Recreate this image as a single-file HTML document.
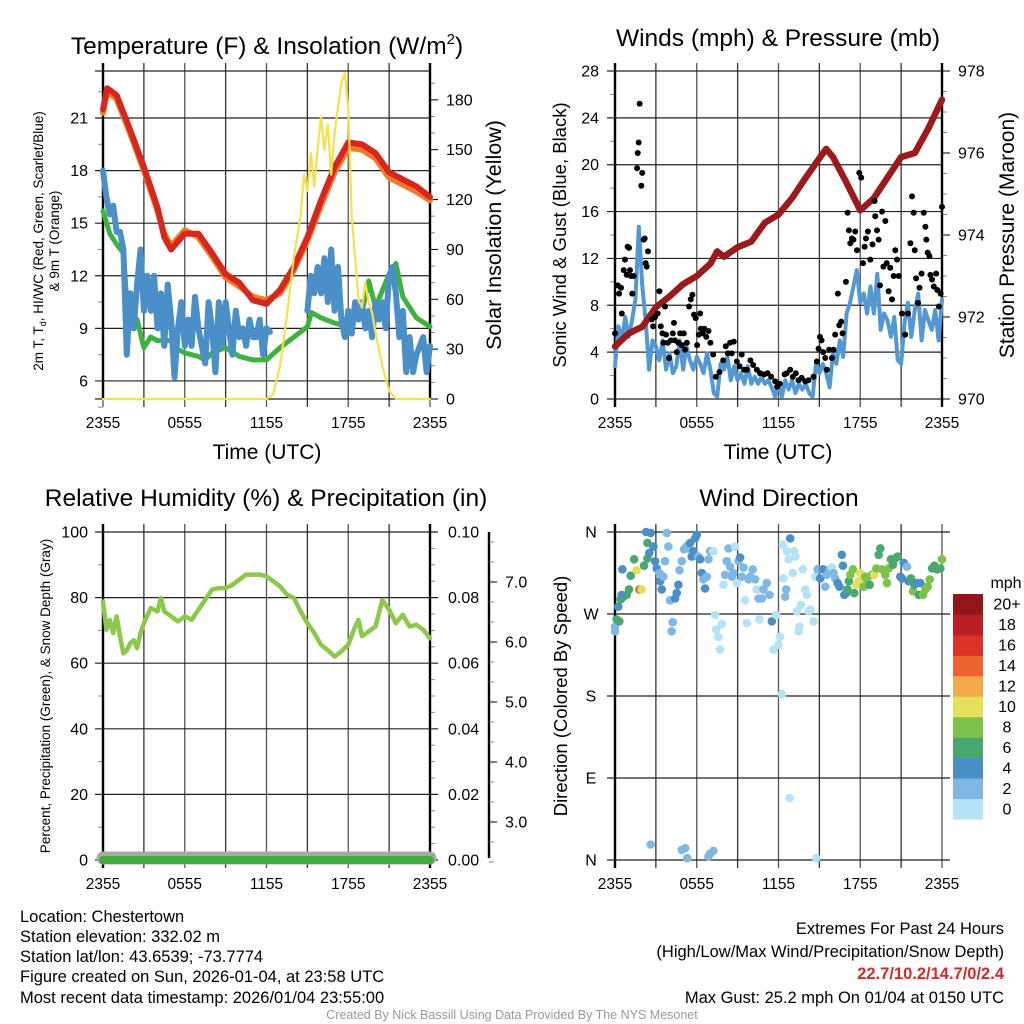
<!DOCTYPE html>
<html><head><meta charset="utf-8"><title>Chestertown Meteogram</title>
<style>
html,body{margin:0;padding:0;background:#fff;}
svg{display:block;font-family:"Liberation Sans",Arial,sans-serif;}
</style></head>
<body>
<svg id="chart" xmlns="http://www.w3.org/2000/svg" width="1024" height="1024" viewBox="0 0 1024 1024">
<rect x="0" y="0" width="1024" height="1024" fill="#fff"/>
<g id="layer"></g>
<!-- titles -->
<text x="267" y="54" font-size="24.5" text-anchor="middle">Temperature (F) &amp; Insolation (W/m<tspan font-size="15" dy="-10">2</tspan><tspan dy="10">)</tspan></text>
<text x="778" y="46" font-size="24.5" text-anchor="middle">Winds (mph) &amp; Pressure (mb)</text>
<text x="266" y="506" font-size="24.5" text-anchor="middle">Relative Humidity (%) &amp; Precipitation (in)</text>
<text x="779" y="506" font-size="24.5" text-anchor="middle">Wind Direction</text>
<!-- axis titles -->
<text x="267" y="459" font-size="21" text-anchor="middle">Time (UTC)</text>
<text x="778" y="459" font-size="21" text-anchor="middle">Time (UTC)</text>
<text transform="translate(43,241) rotate(-90)" font-size="13.5" text-anchor="middle">2m T, T<tspan font-size="9" dy="3">d</tspan><tspan dy="-3">, HI/WC (Red, Green, Scarlet/Blue)</tspan></text>
<text transform="translate(59,241) rotate(-90)" font-size="13.5" text-anchor="middle">&amp; 9m T (Orange)</text>
<text transform="translate(501,235) rotate(-90)" font-size="21.5" text-anchor="middle">Solar Insolation (Yellow)</text>
<text transform="translate(566,235) rotate(-90)" font-size="18.5" text-anchor="middle">Sonic Wind &amp; Gust (Blue, Black)</text>
<text transform="translate(1014,235) rotate(-90)" font-size="21" text-anchor="middle">Station Pressure (Maroon)</text>
<text transform="translate(50,696) rotate(-90)" font-size="13.5" text-anchor="middle">Percent, Precipitation (Green), &amp; Snow Depth (Gray)</text>
<text transform="translate(567,696) rotate(-90)" font-size="18.5" text-anchor="middle">Direction (Colored By Speed)</text>
<text x="1006" y="588" font-size="16" text-anchor="middle">mph</text>
<!-- footer -->
<g font-size="16.5">
<text x="20" y="922">Location: Chestertown</text>
<text x="20" y="942">Station elevation: 332.02 m</text>
<text x="20" y="962">Station lat/lon: 43.6539; -73.7774</text>
<text x="20" y="982">Figure created on Sun, 2026-01-04, at 23:58 UTC</text>
<text x="20" y="1003">Most recent data timestamp: 2026/01/04 23:55:00</text>
</g>
<g font-size="16.5" text-anchor="end">
<text x="1004" y="934">Extremes For Past 24 Hours</text>
<text x="1004" y="957">(High/Low/Max Wind/Precipitation/Snow Depth)</text>
<text x="1004" y="979" fill="#d42a2a" font-weight="bold">22.7/10.2/14.7/0/2.4</text>
<text x="1004" y="1003">Max Gust: 25.2 mph On 01/04 at 0150 UTC</text>
</g>
<text x="512" y="1019" font-size="12.5" fill="#999" text-anchor="middle">Created By Nick Bassill Using Data Provided By The NYS Mesonet</text>
</svg>
<script>
// ---------- DATA ----------
const timeTickLabels = ["2355","0555","1155","1755","2355"];
// Temperature panel
const tempT = [0,0.3,1,2,3,4,4.5,5,6,7,8,9,10,11,12,13,14,15,16,17,18,19,20,21,22,23,24];
const tempV = [21.5,22.7,22.3,20.3,18.2,15.9,14.2,13.5,14.4,14.4,13.3,12.1,11.6,10.6,10.4,11.2,12.5,14.2,16.3,18.2,19.6,19.5,19.0,17.9,17.5,17.1,16.5];
const temp9V = [21.3,22.5,22.1,20.1,18.0,15.7,14.4,13.7,14.6,14.2,13.1,11.9,11.4,10.8,10.6,11.0,12.3,14.0,16.0,17.9,19.3,19.2,18.7,17.6,17.2,16.8,16.3];
const dewT = [0,0.5,1,1.5,1.8,2,2.5,3,3.5,4,5,5.5,6,7,7.5,8,9,10,11,12,13,14,15,15.3,16,17,18,19,19.5,20,21,21.5,22,23,24];
const dewV = [15.7,14.4,13.8,13.3,10.0,9.6,9.5,7.9,8.5,8.3,8.3,7.8,7.6,7.4,7.2,7.6,7.9,7.4,7.2,7.2,7.9,8.5,9.1,9.9,9.6,9.3,9.1,9.9,11.7,10.2,12.1,12.7,10.8,9.6,9.1];
// wind chill, every 15 minutes from 2355
const wcV = [18,16.5,15.5,16,14.5,14.5,13.5,7.5,11,9,11.5,13.5,10,12,10,12,
 9,11,8,11.5, 9.5,6.2,9,10.5, 8,9.5,8,10.8, 9,8,7,10.5, 9,6.5,10.5,8, 10.5,9,7.5,10, 8.5,9,8,9.5, 8.5,8.5,9.5,7.5,
 9,8.8, null,null,null,null,null,null,null,null,null,null,
 10,12,11,12.5, 11,13,10.5,13.5, 10,12.5,9.5,8.5, 10,8.7,10.5,9.5, 10.5,9,10,8.5, 10.5,9.5,10.5,9, 12,12.5,11,8.5, 10,6.5,8.5,6.5, 7.5,8,8.5,6.5, 8];
const solarT = [0,12,12.5,13,13.5,14,14.5,14.75,15,15.25,15.5,15.75,16,16.25,16.5,16.75,17,17.25,17.5,17.75,18,18.25,18.5,18.75,19,19.25,19.5,19.75,20,20.5,21,21.5,24];
const solarV = [0,0,3,20,50,85,110,135,125,148,128,150,170,150,165,135,160,175,190,196,175,110,85,60,55,70,58,52,40,20,5,0,0];
const tempTicks = [6,9,12,15,18,21];
const solarTicks = [0,30,60,90,120,150,180];
// Wind panel
const windV = [2.8,6.2,5,7,5.3,6.7,8.5,14.7,9.6,6.7,2.5,5,4.5,3.3,5,2.5,3.9,2.2,2.8,5,2.5,4.5,3.3,2.5,3.6,3,2.2,3.9,2.5,0.5,0.2,3,2.5,3.6,1.6,2.8,1.6,2.2,1.3,2.8,1.3,1.9,1.3,1.9,1.3,1.6,1,0.2,1.3,0.2,1.6,0.8,1.6,0.5,1.3,0.8,1.3,0.5,0.2,3,2.2,3,2.2,1,3.9,3,5,3.6,7.3,8.2,9.6,11,8.2,9,7.3,9.6,7.3,10.7,5.9,7.3,6.7,5.3,7,3.3,3,6.5,8.2,5.3,7.6,9,5,7.6,6.7,5.9,7.6,5,8.5];
const gustT = [0,0.2,0.3,0.44,0.5,0.64,0.73,0.86,0.93,1.03,1.1,1.18,1.27,1.37,1.62,1.67,1.74,1.81,1.93,2.0,2.1,2.18,2.25,2.33,2.42,2.7,2.8,2.94,3.13,3.26,3.36,3.48,3.55,3.67,3.75,3.87,3.97,4.1,4.24,4.33,4.4,4.53,4.65,4.78,4.9,5.05,5.14,5.27,5.44,5.56,5.68,5.8,5.93,6.03,6.15,6.25,6.3,6.44,6.56,6.7,6.86,7.0,7.2,7.4,7.67,7.94,8.13,8.28,8.45,8.57,8.72,8.94,9.14,9.3,9.48,9.67,9.94,10.14,10.41,10.65,10.95,11.2,11.46,11.76,11.9,12.1,12.45,12.6,12.86,13.05,13.27,13.47,13.7,13.96,14.2,14.57,14.82,14.94,15.04,15.16,15.28,15.43,15.55,15.72,15.92,16.04,16.16,16.36,16.46,16.6,16.7,16.95,17.07,17.17,17.27,17.39,17.5,17.63,17.76,17.93,18.07,18.2,18.32,18.42,18.56,18.74,18.9,19.05,19.1,19.23,19.35,19.45,19.6,19.7,19.84,19.94,20.08,20.2,20.33,20.45,20.57,20.7,20.82,21.06,21.3,21.5,21.68,21.8,21.92,22,22.1,22.24,22.35,22.5,22.66,22.78,22.85,22.95,23.08,23.15,23.27,23.4,23.57,23.66,23.77,23.9,24];
const gustV = [5.6,9.7,9,9.5,7.3,11,11.9,10.6,13,12.9,11,10.5,9,10.5,19.7,21,21.9,25.2,18.2,19.3,13.6,13.7,11.6,11.3,12.6,6.8,6.2,7,7.3,9.2,6.2,5.6,4.8,7.9,5.5,4.8,3.5,5,5.6,6.5,5,4,4.8,5.6,4.6,5.6,4.2,4.8,7.9,8.5,8.9,7.2,6.9,4.6,5.5,7.3,6,5.6,6,5.3,5.8,4.8,3.8,1.9,2.3,3.3,4.5,3.9,4.8,3.9,4.9,3.2,2.8,3.8,2.5,2.5,3.3,2.9,2.5,2.2,2.1,2.2,1.9,1.5,1.05,1.3,2.1,2.2,2.5,1.9,2.2,1.6,1.8,1.5,1.6,1.9,3.2,4.3,5.3,5,4,3.5,2.5,4.2,3.5,4.2,5.5,9,6.3,6.6,5.6,10,15.9,14.4,13.3,13.7,13.6,14.3,12.7,19.3,18.9,11.6,13,13.7,14.3,11.9,13.2,16.9,15.6,14.4,13.6,9.7,16,11.3,15.2,11.6,9.2,11.2,8.5,10.5,12.7,11.9,10.5,7.3,5.5,7.3,13.3,17.3,15.9,12.7,10.3,8.2,9.5,10.7,15.9,14.7,13.6,12.5,12.2,10.6,10.2,9.6,10.7,9.3,7.9,9,16.4];
const pressT = [0,1,2,3,4,5,6,7,7.5,8,9,10,11,12,13,14,15,15.5,16,17,18,19,20,21,22,23,24];
const pressV = [971.28,971.6,971.76,972.24,972.5,972.8,973.0,973.3,973.6,973.47,973.7,973.84,974.3,974.5,974.9,975.4,975.87,976.1,975.9,975.27,974.6,974.9,975.4,975.9,976.0,976.6,977.3];
const windTicks = [0,4,8,12,16,20,24,28];
const pressTicks = [970,972,974,976,978];
// Humidity panel
const rhT = [0,0.25,0.5,0.75,1,1.25,1.5,1.75,2,2.25,2.5,2.75,3,3.5,4,4.25,4.5,5,5.5,6,6.5,7,7.5,8,8.5,9,9.5,10,10.5,11,11.5,12,12.5,13,13.5,14,14.5,15,15.5,16,16.5,17,17.5,18,18.5,18.75,19,19.5,20,20.5,21,21.5,22,22.5,23,23.5,24];
const rhV = [78.8,70.2,73.2,69.2,74.3,68.2,63,64,66.1,67,64.6,69.2,72.2,76.8,75.8,79.9,75.8,74.3,72.7,74.3,73.2,76.3,79.3,82.4,82.9,82.9,83.9,85.5,87,87,87,86.5,85,83.4,80.9,79.9,75.8,72.2,69.2,65.6,64,62,63.6,65.6,71.2,73.2,68.2,69.7,71.2,79.3,76.3,72.2,74.8,71.2,71.7,70.2,67.6];
const precipT = [0,24];
const precipV = [0,0];
const snowT = [0,24];
const snowV = [2.4,2.4];
const rhTicks = [0,20,40,60,80,100];
const precipTicks = ["0.00","0.02","0.04","0.06","0.08","0.10"];
const snowTicks = ["3.0","4.0","5.0","6.0","7.0"];
// Wind direction panel
const dirT = [0,0,0.12,0.32,0.24,0.42,0.61,0.86,1.03,0.49,0.54,1.15,1.40,1.59,1.79,1.96,2.13,2.38,2.38,2.28,2.62,2.52,2.82,2.94,3.06,3.26,3.31,3.43,3.55,3.67,3.80,3.92,4.04,4.16,4.24,4.41,4.53,4.65,4.73,4.90,5.07,5.22,5.39,5.51,5.63,5.76,5.88,6.00,6.12,6.25,6.37,6.49,6.61,6.74,6.86,6.98,7.22,7.35,7.42,7.59,7.71,7.84,7.96,8.08,8.20,8.33,8.45,8.57,8.69,8.82,8.94,9.06,9.18,9.31,9.43,9.55,9.67,9.80,9.92,10.11,10.29,10.41,10.53,10.60,10.78,10.90,11.14,11.34,11.51,11.63,11.83,12.00,12.12,12.25,12.37,12.49,12.56,12.32,12.61,12.74,12.86,13.05,13.15,13.25,13.35,13.47,13.54,13.64,13.79,13.96,14.08,14.21,14.33,14.57,14.70,14.87,15.06,15.26,15.43,15.55,15.75,15.92,16.04,16.16,16.34,16.48,16.65,16.73,16.83,16.97,17.07,17.17,17.27,17.46,17.56,17.71,17.88,18.00,18.12,18.25,18.37,18.49,18.69,18.86,19.03,19.18,19.35,19.47,19.59,19.84,19.96,20.08,20.25,20.40,20.57,20.74,20.94,21.06,21.19,21.43,21.55,21.72,21.87,21.97,22.12,22.29,22.41,22.61,22.78,22.95,23.10,23.27,23.44,23.63,23.88,24,2.62,4.90,5.15,5.30,6.86,6.98,7.22,14.77,12.81];
const dirDeg = [251,256,264,262,278,286,289,291,297,291,319,312,330,318,297,297,323,331,348,360,359,337,344,328,320,315,306,297,311,328,359,344,285,251,261,287,293,302,318,328,341,344,342,348,333,339,353,357,333,330,315,308,298,311,330,339,339,269,253,245,231,259,302,313,328,342,322,311,315,344,304,328,332,311,321,285,260,308,311,319,308,297,287,264,287,297,304,291,262,231,269,236,245,182,309,289,297,346,339,330,353,315,339,333,273,251,256,280,319,297,291,273,275,262,311,319,309,319,300,313,319,321,315,309,304,300,335,323,291,293,297,306,313,319,293,302,306,315,309,300,311,308,302,313,313,320,335,342,319,313,304,320,330,324,331,333,311,309,326,322,306,309,295,302,304,291,304,291,297,300,308,320,323,319,320,330,17,11,13,2,4,7,10,2,68];
const dirSpd = [3,3,6,6,4,6,6,6,7,5,5,7,6,10,14,11,6,6,6,5,5,5,5,4,5,3,5,5,3,3,3,3,3,3,3,4,5,5,3,3,3,3,3,5,5,5,5,5,3,5,5,3,5,3,3,3,1,1,1,1,1,1,1,3,3,3,3,3,3,1,1,3,4,3,3,1,1,3,3,3,3,1,3,1,3,3,3,3,5,1,1,1,1,1,1,3,3,1,1,1,4,1,1,1,1,1,1,1,1,1,1,1,1,1,1,3,4,4,3,3,3,1,3,3,5,5,5,5,5,5,7,7,8,8,7,10,10,10,10,8,8,8,7,9,10,8,7,7,8,8,8,8,7,7,7,7,4,4,4,3,5,7,9,7,5,7,5,9,9,9,9,7,7,7,7,8,3,3,3,3,3,3,3,1,1];
const dirTickLabels = ["N","E","S","W","N"];
const speedBins = ["0","2","4","6","8","10","12","14","16","18","20+"];
const speedColors = ["#b4e2f6","#7fb9e3","#4a8fc6","#48a870","#7dc24a","#e4e05c","#f5a94a","#ee6430","#dc3229","#bb1e26","#921619"];

// ---------- DRAWING ----------
const NS = "http://www.w3.org/2000/svg";
const layer = document.getElementById("layer");
function el(tag, attrs){
  const e = document.createElementNS(NS, tag);
  for (const k in attrs) e.setAttribute(k, attrs[k]);
  layer.appendChild(e);
  return e;
}
const P1 = {x0:103,x1:430,y0:71,y1:399};
const P2 = {x0:615,x1:942,y0:71,y1:399};
const P3 = {x0:103,x1:430,y0:532,y1:860};
const P4 = {x0:615,x1:942,y0:532,y1:860};
function xOf(P,t){ return P.x0 + t/24*(P.x1-P.x0); }
const yTemp = v => 118 + (21 - v)*17.53;
const ySolar = v => 399 - v*1.662;
const yWind = v => 399 - v*328/28;
const yPress = v => 399 - (v-970)*41;
const yRH = v => 860 - v*3.28;
const yPrecip = v => 860 - v*3280;
const ySnow = v => 582 - (v-7)*60;
const yDir = d => 860 - d*328/360;

function frame(P, name){
  for (let i=0;i<=8;i++){
    const x = xOf(P, i*3);
    const g = el("line",{x1:x,y1:P.y0-8,x2:x,y2:P.y1+8,stroke:(i%2? "#333":"#555"),"stroke-width":1.3});
    
    
  }
  for (let i=0;i<5;i++){
    const t = el("text",{x:xOf(P,i*6),y:P.y1+29,"font-size":15.5,"text-anchor":"middle"});
    t.textContent = timeTickLabels[i];
    
    
  }
}
function hgrid(P, y, name, right){
  const g = el("line",{x1:P.x0-8,y1:y,x2:right||P.x1,y2:y,stroke:"#222","stroke-width":1.2});
  
  
}
function minor(x, y, len, name){
  const m = el("line",{x1:x,y1:y,x2:x+len,y2:y,stroke:"#888","stroke-width":1});
  
  
}
function label(x,y,txt,anchor,name,size){
  const t = el("text",{x:x,y:y+5.5,"font-size":size||16,"text-anchor":anchor});
  t.textContent = txt;
  
  
}
function axisLine(x,y0,y1,name){
  const a = el("line",{x1:x,y1:y0,x2:x,y2:y1,stroke:"#000","stroke-width":2.4});
  
  
}
function path(pts, color, w, name){
  let d = "", pen = false;
  for (const p of pts){
    if (p === null){ pen = false; continue; }
    d += (pen ? "L" : "M") + p[0].toFixed(1) + " " + p[1].toFixed(1);
    pen = true;
  }
  const e = el("path",{d:d,fill:"none",stroke:color,"stroke-width":w,"stroke-linejoin":"round","stroke-linecap":"round"});
  
  
  return e;
}

// ----- Panel 1: temperature -----
frame(P1,"temperature");
for (const v of tempTicks){ hgrid(P1, yTemp(v), "temperature-grid-line"); label(88, yTemp(v), String(v), "end", "temperature-y-tick-label"); }
for (const v of tempTicks){ minor(P1.x0-5, yTemp(v-1.5), 5, "temperature-minor-tick"); }
minor(P1.x0-5, yTemp(22.5), 5, "temperature-minor-tick");
hgrid(P1, P1.y0, "temperature-top-border"); hgrid(P1, P1.y1, "temperature-bottom-border");
for (const v of solarTicks){ const t=el("line",{x1:P1.x1,y1:ySolar(v),x2:P1.x1+8,y2:ySolar(v),stroke:"#000"});   label(446, ySolar(v), String(v), "start", "solar-y-tick-label"); }
for (let v=10; v<=190; v+=10){ if (v%30) minor(P1.x1, ySolar(v), 5, "solar-minor-tick"); }
axisLine(P1.x0, P1.y0-8, P1.y1, "temperature-left-axis");
axisLine(P1.x1, P1.y0-8, P1.y1, "solar-right-axis");
path(tempT.map((t,i)=>[xOf(P1,t), yTemp(temp9V[i])]), "#f07a2a", 6, "temperature-9m-orange-line");
path(tempT.map((t,i)=>[xOf(P1,t), yTemp(tempV[i])]), "#d7261e", 6, "temperature-2m-red-line");
path(dewT.map((t,i)=>[xOf(P1,t), yTemp(dewV[i])]), "#3db33d", 5, "dewpoint-green-line");
path(wcV.map((v,i)=> v===null ? null : [xOf(P1,i*0.25), yTemp(v)]), "#4b8fc8", 6, "wind-chill-blue-line");
path(solarT.map((t,i)=>[xOf(P1,t), ySolar(solarV[i])]), "#f7e04a", 2.2, "solar-insolation-yellow-line");

// ----- Panel 2: wind & pressure -----
frame(P2,"wind");
for (const v of windTicks){ hgrid(P2, yWind(v), "wind-grid-line"); label(599, yWind(v), String(v), "end", "wind-y-tick-label"); }
for (let v=2; v<28; v+=4) minor(P2.x0-5, yWind(v), 5, "wind-minor-tick");
for (const v of pressTicks){ const t=el("line",{x1:P2.x1,y1:yPress(v),x2:P2.x1+8,y2:yPress(v),stroke:"#000"});   label(958, yPress(v), String(v), "start", "pressure-y-tick-label"); }
for (let v=970.5; v<978; v+=0.5){ if (v%2) minor(P2.x1, yPress(v), 5, "pressure-minor-tick"); }
axisLine(P2.x0, P2.y0-8, P2.y1+8, "wind-left-axis");
axisLine(P2.x1, P2.y0-8, P2.y1+8, "pressure-right-axis");
path(windV.map((v,i)=>[xOf(P2,i*0.25), yWind(v)]), "#5398d3", 4, "sonic-wind-blue-line");
path(pressT.map((t,i)=>[xOf(P2,t), yPress(pressV[i])]), "#9b1a1c", 6.5, "station-pressure-maroon-line");
gustT.forEach((t,i)=>{
  const c = el("circle",{cx:xOf(P2,t), cy:yWind(gustV[i]), r:3, fill:"#000"});
  
  
});

// ----- Panel 3: humidity & precipitation -----
frame(P3,"humidity");
rhTicks.forEach((v,i)=>{
  hgrid(P3, yRH(v), "humidity-grid-line", P3.x1+8);
  label(88, yRH(v), String(v), "end", "humidity-y-tick-label");
  label(448, yRH(v), precipTicks[i], "start", "precip-y-tick-label");
});
for (let v=10; v<100; v+=20) minor(P3.x0-5, yRH(v), 5, "humidity-minor-tick");
for (let v=5; v<100; v+=5){ if (v%20) minor(P3.x1, yRH(v), 5, "precip-minor-tick"); }
axisLine(P3.x0, P3.y0-8, P3.y1+8, "humidity-left-axis");
axisLine(P3.x1, P3.y0-8, P3.y1+8, "precip-right-axis");
axisLine(489, 532, 858, "snow-depth-axis");
snowTicks.forEach(s=>{
  const v = parseFloat(s);
  const t = el("line",{x1:489,y1:ySnow(v),x2:497,y2:ySnow(v),stroke:"#000"});
  
  
  label(505, ySnow(v), s, "start", "snow-depth-tick-label");
});
for (let k=0;k<17;k++){ const v = 7.667 - k/3; if (Math.abs(v-Math.round(v))>0.1) minor(489, ySnow(v), 5, "snow-depth-minor-tick"); }
path(rhT.map((t,i)=>[xOf(P3,t), yRH(rhV[i])]), "#8cc84b", 4.5, "relative-humidity-line");
path(snowT.map((t,i)=>[xOf(P3,t), ySnow(snowV[i])]), "#a8a8a8", 13, "snow-depth-gray-line");
path(precipT.map((t,i)=>[xOf(P3,t), yPrecip(precipV[i])]), "#3fae3f", 8, "precipitation-green-line");

// ----- Panel 4: wind direction -----
frame(P4,"direction");
dirTickLabels.forEach((s,i)=>{
  const y = yDir(i*90);
  hgrid(P4, y, "direction-grid-line", P4.x1+8);
  label(591, y, s, "middle", "direction-y-tick-label");
});
axisLine(P4.x0, P4.y0-8, P4.y1+8, "direction-left-axis");
dirT.forEach((t,i)=>{
  const idx = Math.min(10, Math.floor(dirSpd[i]/2));
  const c = el("circle",{cx:xOf(P4,t), cy:yDir(dirDeg[i]), r:4.3, fill:speedColors[idx]});
  
  
});
// colorbar
speedBins.forEach((s,i)=>{
  const h = 225/11;
  const y = 819 - (i+1)*h;
  const r = el("rect",{x:953,y:y,width:30,height:h+0.5,fill:speedColors[i]});
  
  
  label(1007, y+h/2, s, "middle", "colorbar-label", 16);
});
</script>
</body></html>
